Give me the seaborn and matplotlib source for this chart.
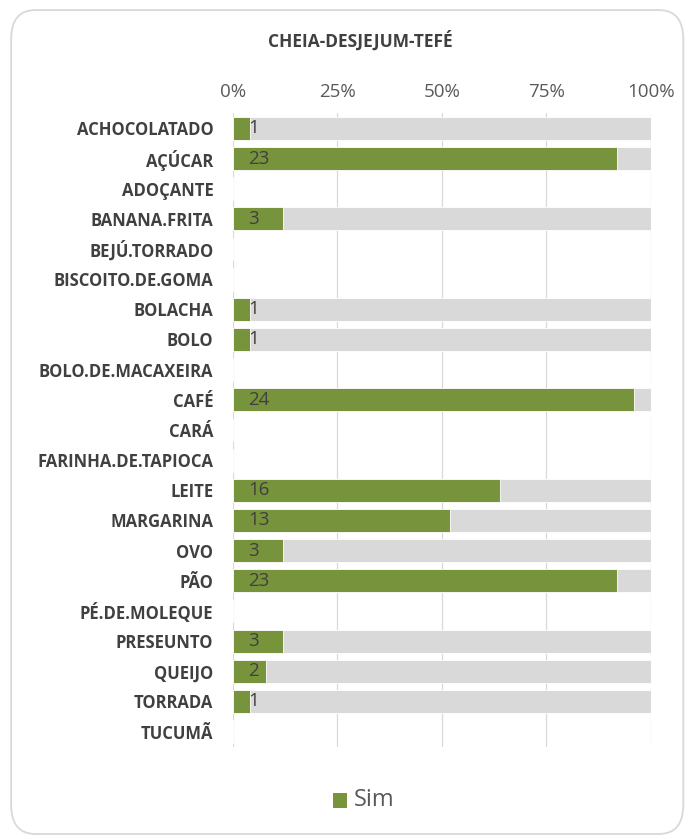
import matplotlib
matplotlib.use("Agg")
import matplotlib.pyplot as plt
from matplotlib.patches import FancyBboxPatch
import seaborn as sns
import pandas as pd
import numpy as np

categories = [
    "ACHOCOLATADO", "AÇÚCAR", "ADOÇANTE", "BANANA.FRITA", "BEJÚ.TORRADO",
    "BISCOITO.DE.GOMA", "BOLACHA", "BOLO", "BOLO.DE.MACAXEIRA", "CAFÉ",
    "CARÁ", "FARINHA.DE.TAPIOCA", "LEITE", "MARGARINA", "OVO", "PÃO",
    "PÉ.DE.MOLEQUE", "PRESEUNTO", "QUEIJO", "TORRADA", "TUCUMÃ",
]
sim = [1, 23, 0, 3, 0, 0, 1, 1, 0, 24, 0, 0, 16, 13, 3, 23, 0, 3, 2, 1, 0]
nao = [24, 2, 0, 22, 0, 0, 24, 24, 0, 1, 0, 0, 9, 12, 22, 2, 0, 22, 23, 24, 0]
tick_labels = ["0%", "25%", "50%", "75%", "100%"]

df = pd.DataFrame({"item": categories, "sim": sim, "nao": nao})
df["total"] = df["sim"] + df["nao"]
df["pct_total"] = np.where(df["total"] > 0, 1.0, 0.0)
df["pct_sim"] = np.where(df["total"] > 0, df["sim"] / df["total"].replace(0, 1), 0.0)

GREEN = "#77933C"
GRAY = "#D9D9D9"
TEXT = "#404040"

sns.set_theme(style="white")
plt.rcParams["font.family"] = ["Open Sans", "DejaVu Sans"]

fig = plt.figure(figsize=(6.93, 8.39), dpi=100)
ax = fig.add_axes([0.336, 0.110, 0.603, 0.755])

# Rounded chart frame
frame = FancyBboxPatch((0.016, 0.006), 0.97, 0.982,
                       boxstyle="round,pad=0,rounding_size=0.035",
                       transform=fig.transFigure, facecolor="white",
                       edgecolor="#D9D9D9", linewidth=1.3, zorder=-10)
fig.patches.append(frame)

# Vertical gridlines
for t in [0, 0.25, 0.5, 0.75, 1.0]:
    ax.axvline(t, color="#D9D9D9", linewidth=0.9, zorder=0)

sns.barplot(data=df, y="item", x="pct_total", color=GRAY, width=0.76,
            saturation=1, edgecolor="white", linewidth=0.6, ax=ax, zorder=2,
            errorbar=None)
sns.barplot(data=df, y="item", x="pct_sim", color=GREEN, width=0.76,
            saturation=1, edgecolor="white", linewidth=0.6, ax=ax, zorder=3,
            errorbar=None)

# Value labels at the base of each green bar
for i, s in enumerate(df["sim"]):
    if s > 0:
        ax.annotate(str(s), xy=(0, i), xytext=(11, 0), textcoords="offset points",
                    ha="left", va="center", fontsize=13.5, color=TEXT, zorder=5)

ax.set_xlim(0, 1.0)
ax.set_ylim(len(categories) - 0.5, -0.5)
ax.xaxis.tick_top()
ax.set_xticks([0, 0.25, 0.5, 0.75, 1.0])
ax.set_xticklabels(tick_labels, fontsize=13.5, color="#595959")
ax.tick_params(axis="x", length=0, pad=9)
ax.tick_params(axis="y", length=0, pad=14)
for lbl in ax.get_yticklabels():
    lbl.set_fontsize(12)
    lbl.set_fontweight("bold")
    lbl.set_color(TEXT)
ax.set_xlabel("")
ax.set_ylabel("")
for sp in ax.spines.values():
    sp.set_visible(False)

fig.text(0.52, 0.952, "CHEIA-DESJEJUM-TEFÉ", ha="center", va="center",
         fontsize=12.5, fontweight="bold", color=TEXT)

# Legend
fig.patches.append(plt.Rectangle((0.481, 0.037), 0.02, 0.018,
                                 transform=fig.transFigure, facecolor=GREEN,
                                 edgecolor="none"))
fig.text(0.511, 0.046, "Sim", ha="left", va="center", fontsize=17, color="#595959")

fig.savefig("out.png", dpi=100)
